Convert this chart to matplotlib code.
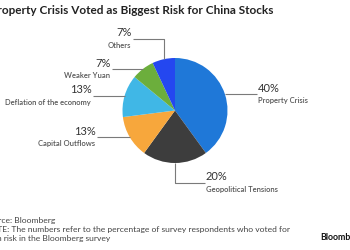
import numpy as np
import matplotlib.pyplot as plt

plt.rcParams['font.family'] = ['Lato', 'DejaVu Sans']

categories = ['Property Crisis', 'Geopolitical Tensions', 'Capital Outflows',
              'Deflation of the economy', 'Weaker Yuan', 'Others']
shares = [40, 20, 13, 13, 7, 7]
colors = ['#1f78d8', '#3d3d3d', '#f7a73c', '#40b7e6', '#6cae3c', '#2447f0']

# leader layout in pixels from the top-left: (vertical elbow y or None, line end x, side)
leaders = [(None, 257, 'right'), (183, 205, 'right'), (None, 97, 'left'),
           (None, 93, 'left'), (None, 112, 'left'), (39, 133, 'left')]

W, H = 350, 250
cx, cy, r = 175, 110.5, 52.5


def Y(y):
    return H - y


fig = plt.figure(figsize=(3.5, 2.5), dpi=100)
ax = fig.add_axes([0, 0, 1, 1])

wedges, _ = ax.pie(shares, colors=colors, startangle=90, counterclock=False,
                   center=(cx, Y(cy)), radius=r,
                   wedgeprops=dict(linewidth=0))
ax.set_xlim(0, W)
ax.set_ylim(0, H)
ax.set_aspect('equal')
ax.axis('off')

line_col = '#7a7a7a'
for w, name, val, (elbow, xend, side) in zip(wedges, categories, shares, leaders):
    mid = np.deg2rad((w.theta1 + w.theta2) / 2)
    ax_ = cx + r * np.cos(mid)
    ay_ = cy - r * np.sin(mid)
    if elbow is not None:
        xs = [ax_, ax_, xend]
        ys = [ay_, elbow, elbow]
        ly = elbow
    else:
        xs = [ax_, xend]
        ys = [ay_, ay_]
        ly = ay_
    ax.plot(xs, [Y(v) for v in ys], color=line_col, lw=0.8, solid_capstyle='butt')
    if side == 'right':
        tx, ha = xend + 1, 'left'
    else:
        tx, ha = xend - 1, 'right'
    ax.text(tx, Y(ly - 0.5), f'{val}%', ha=ha, va='bottom', fontsize=8,
            color='#333333')
    ax.text(tx if side == 'right' else tx - 1, Y(ly + 3), name, ha=ha, va='top',
            fontsize=5.5, color='#555555', fontweight='semibold')

ax.text(-10.5, Y(11), 'Property Crisis Voted as Biggest Risk for China Stocks',
        ha='left', va='center', fontsize=8.5, fontweight='bold', color='#222222')

foot_x = -16
ax.text(foot_x, Y(221), 'Source: Bloomberg', ha='left', va='center',
        fontsize=6.1, color='#444444')
ax.text(foot_x, Y(229.5), 'NOTE: The numbers refer to the percentage of survey respondents who voted for',
        ha='left', va='center', fontsize=6.1, color='#444444')
ax.text(foot_x, Y(238), 'each risk in the Bloomberg survey', ha='left', va='center',
        fontsize=6.1, color='#444444')
ax.text(320, Y(237), 'Bloomberg', ha='left', va='center', fontsize=6.4,
        fontweight='bold', color='#111111')

fig.savefig('out.png', dpi=100)
